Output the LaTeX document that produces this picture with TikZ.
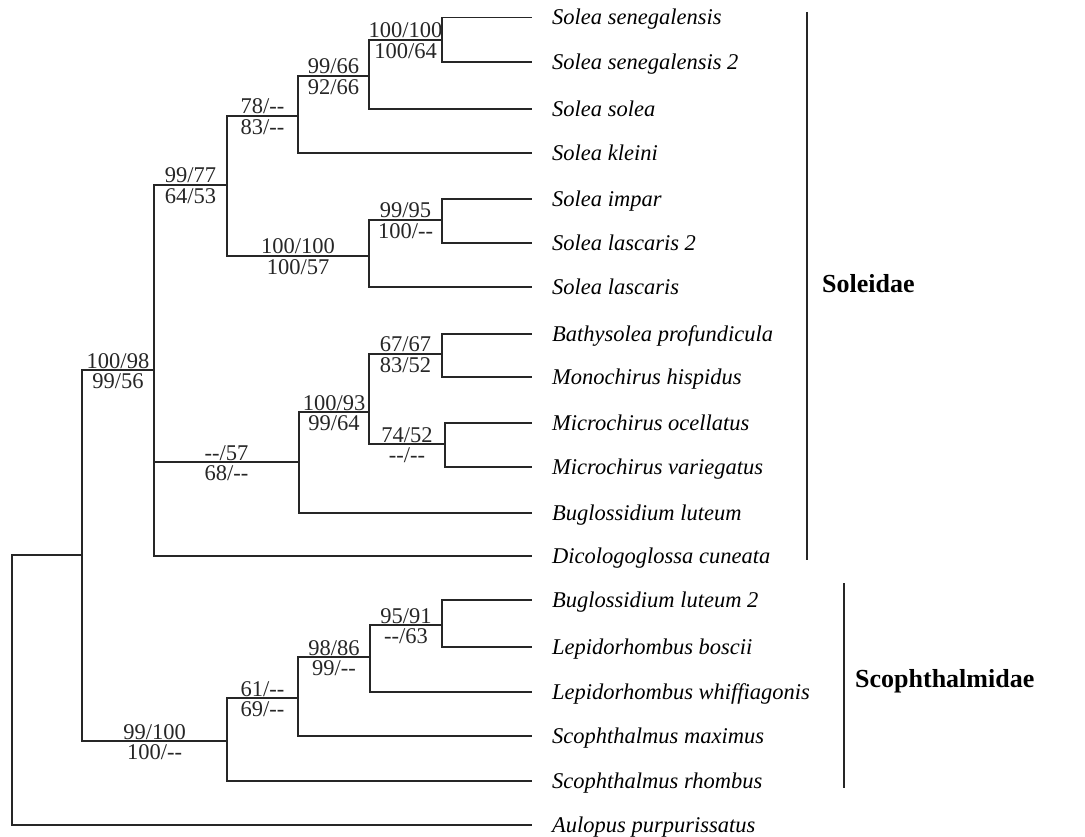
\documentclass[tikz,border=0pt]{standalone}
\usepackage{fontspec}
\setmainfont{Liberation Serif}
\newcommand{\nosup}{-{}-}
\tikzstyle{branch} = [line width=1.2pt, black!85]
\tikzstyle{taxon} = [anchor=base west, inner sep=0pt, font=\fontsize{22.5}{27}\selectfont\itshape]
\tikzstyle{above val} = [pos=0.75, anchor=base, inner sep=0pt, text depth=0pt, yshift=2pt, font=\fontsize{22.5}{27}\selectfont]
\tikzstyle{below val} = [pos=0.75, anchor=base, inner sep=0pt, text depth=0pt, yshift=-18.5pt, font=\fontsize{22.5}{27}\selectfont]
\tikzstyle{family} = [anchor=base west, inner sep=0pt, font=\fontsize{26}{30}\selectfont\bfseries]

\begin{document}
\begin{tikzpicture}[x=1pt, y=-1pt]
\useasboundingbox (0,0) rectangle (1085,837);

% tips and taxon names
\foreach \y/\name [count=\i] in {17.5/Solea senegalensis, 62/Solea senegalensis 2, 109/Solea solea, 153/Solea kleini, 199/Solea impar, 243/Solea lascaris 2, 287/Solea lascaris, 334/Bathysolea profundicula, 377/Monochirus hispidus, 423/Microchirus ocellatus, 467/Microchirus variegatus, 513/Buglossidium luteum, 556/Dicologoglossa cuneata, 600/Buglossidium luteum 2, 647/Lepidorhombus boscii, 692/Lepidorhombus whiffiagonis, 736/Scophthalmus maximus, 781/Scophthalmus rhombus, 825/Aulopus purpurissatus}
{
  \coordinate (t\i) at (532,\y);
  \node[taxon] (s\i) at (552,{\y+7.5}) {\name};
}

% internal nodes
\coordinate (r) at (12,690);
\coordinate (a) at (82,555);
\coordinate (b) at (154,370);
\coordinate (c) at (227,185);
\coordinate (e) at (298,116);
\coordinate (g) at (369,76);
\coordinate (h) at (442,40);
\coordinate (f) at (369,256);
\coordinate (i) at (442,220);
\coordinate (d) at (299,462);
\coordinate (j) at (369,412);
\coordinate (k) at (442,354);
\coordinate (l) at (445,444);
\coordinate (sc) at (227,741);
\coordinate (m) at (298,698);
\coordinate (n) at (370,657);
\coordinate (o) at (442,625);

% branches
\draw [branch] (r) |- (a);
\draw [branch] (r) |- (t19);
\draw [branch] (a) |- (b) node[above val]{100/98} node[below val]{99/56};
\draw [branch] (a) |- (sc) node[above val]{99/100} node[below val]{100/\nosup};
\draw [branch] (b) |- (c) node[above val]{99/77} node[below val]{64/53};
\draw [branch] (b) |- (d) node[above val]{\nosup/57} node[below val]{68/\nosup};
\draw [branch] (b) |- (t13);
\draw [branch] (c) |- (e) node[above val]{78/\nosup} node[below val]{83/\nosup};
\draw [branch] (c) |- (f) node[above val]{100/100} node[below val]{100/57};
\draw [branch] (e) |- (g) node[above val]{99/66} node[below val]{92/66};
\draw [branch] (e) |- (t4);
\draw [branch] (g) |- (h) node[above val]{100/100} node[below val]{100/64};
\draw [branch] (g) |- (t3);
\draw [branch] (h) |- (t1);
\draw [branch] (h) |- (t2);
\draw [branch] (f) |- (i) node[above val]{99/95} node[below val]{100/\nosup};
\draw [branch] (f) |- (t7);
\draw [branch] (i) |- (t5);
\draw [branch] (i) |- (t6);
\draw [branch] (d) |- (j) node[above val]{100/93} node[below val]{99/64};
\draw [branch] (d) |- (t12);
\draw [branch] (j) |- (k) node[above val]{67/67} node[below val]{83/52};
\draw [branch] (j) |- (l) node[above val]{74/52} node[below val]{\nosup/\nosup};
\draw [branch] (k) |- (t8);
\draw [branch] (k) |- (t9);
\draw [branch] (l) |- (t10);
\draw [branch] (l) |- (t11);
\draw [branch] (sc) |- (m) node[above val]{61/\nosup} node[below val]{69/\nosup};
\draw [branch] (sc) |- (t18);
\draw [branch] (m) |- (n) node[above val]{98/86} node[below val]{99/\nosup};
\draw [branch] (m) |- (t17);
\draw [branch] (n) |- (o) node[above val]{95/91} node[below val]{\nosup/63};
\draw [branch] (n) |- (t16);
\draw [branch] (o) |- (t14);
\draw [branch] (o) |- (t15);

% families
\coordinate (sol top) at (807,12);
\coordinate (sol bot) at (807,560);
\coordinate (sco top) at (844,583);
\coordinate (sco bot) at (844,788);
\draw [branch] (sol top) -- (sol bot);
\draw [branch] (sco top) -- (sco bot);
\node[family] (soleidae) at (822,293) {Soleidae};
\node[family] (scoph) at (855,687) {Scophthalmidae};

\end{tikzpicture}
\end{document}
